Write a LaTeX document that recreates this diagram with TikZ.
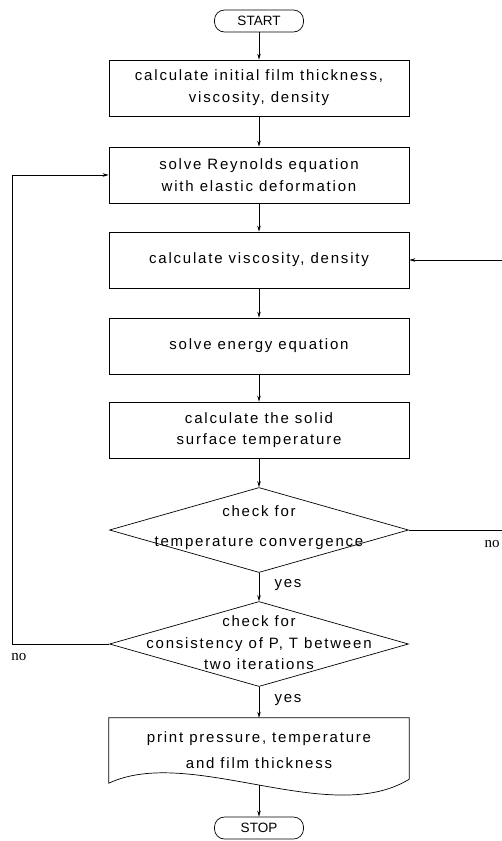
\documentclass[tikz,border=0pt]{standalone}
\usepackage{fontspec}
\setmainfont{Liberation Sans}[LetterSpace=12]
\newfontfamily\termfont{Liberation Sans}
\newfontfamily\nofont{Liberation Serif}
\usetikzlibrary{arrows.meta, shapes.geometric}

\tikzset{
  flowbox/.style={draw, line width=0.7pt, minimum width=300pt, minimum height=56pt, inner sep=0pt, align=center, font=\fontsize{15}{22}\selectfont},
  term/.style={draw, line width=0.7pt, rounded corners=10pt, minimum width=89pt, minimum height=22pt, inner sep=0pt, font=\termfont\fontsize{13.5}{16}\selectfont},
  decide/.style={draw, diamond, line width=0.7pt, minimum width=299pt, minimum height=85pt, inner sep=0pt},
  dtext/.style={align=center, inner sep=0pt, font=\fontsize{15}{#1}\selectfont},
  arr/.style={-{Stealth[length=6pt, width=3.5pt]}, line width=0.7pt},
  yeslbl/.style={anchor=west, font=\fontsize{15}{18}\selectfont},
  nolbl/.style={font=\nofont\fontsize{15}{18}\selectfont}
}

\begin{document}
\begin{tikzpicture}[x=1pt, y=-1pt]
  \useasboundingbox (0,0) rectangle (501,841);

  % start and the chain of boxes
  \node[term] (start) at (259,21) {START};
  \node[flowbox] (calcinit) at (259,88) {calculate initial film thickness,\\viscosity, density};
  \node[flowbox] (reynolds) at (259,175) {solve Reynolds equation\\with elastic deformation};
  \node[flowbox] (calcvisc) at (259,260) {calculate viscosity, density};
  \node[flowbox] (energy) at (259,346) {solve energy equation};
  \node[flowbox, font=\fontsize{15}{21}\selectfont] (solidtemp) at (259,430) {calculate the solid\\surface temperature};

  % the two checks
  \node[decide] (tempconv) at (259,530) {};
  \node[dtext=30] (tempconvtxt) at (259,528) {check for\\temperature convergence};
  \node[decide] (consist) at (259,644) {};
  \node[dtext=21.5] (consisttxt) at (259,643) {check for\\consistency of P, T between\\two iterations};

  % output (document shape) and stop
  \node[align=center, minimum width=300pt, minimum height=65pt, inner sep=0pt, font=\fontsize{15}{26}\selectfont] (printout) at (259,750.5) {print pressure, temperature\\and film thickness};
  \draw[line width=0.7pt] (printout.north west) -- (printout.north east) -- ([yshift=4pt]printout.south east)
    .. controls (330,828) and (190,745) .. (printout.south west) -- cycle;
  \coordinate (wave) at (259,785);
  \node[term] (stop) at (259,828) {STOP};

  % main flow
  \draw[arr] (start) -- (calcinit);
  \draw[arr] (calcinit) -- (reynolds);
  \draw[arr] (reynolds) -- (calcvisc);
  \draw[arr] (calcvisc) -- (energy);
  \draw[arr] (energy) -- (solidtemp);
  \draw[arr] (solidtemp) -- (tempconv);
  \draw[arr] (tempconv) -- (consist);
  \draw[arr] (consist) -- (printout.north);
  \draw[arr] (wave) -- (stop);

  % loops back
  \draw[arr] (tempconv.east) -- ++(100,0) |- (calcvisc.east);
  \draw[arr] (consist.west) -- ++(-97,0) |- (reynolds.west);

  % labels
  \node[yeslbl] (yes1) at (271,585) {yes};
  \node[yeslbl] (yes2) at (271,700) {yes};
  \node[nolbl] (no1) at (492,544) {no};
  \node[nolbl] (no2) at (19,657) {no};
\end{tikzpicture}
\end{document}
